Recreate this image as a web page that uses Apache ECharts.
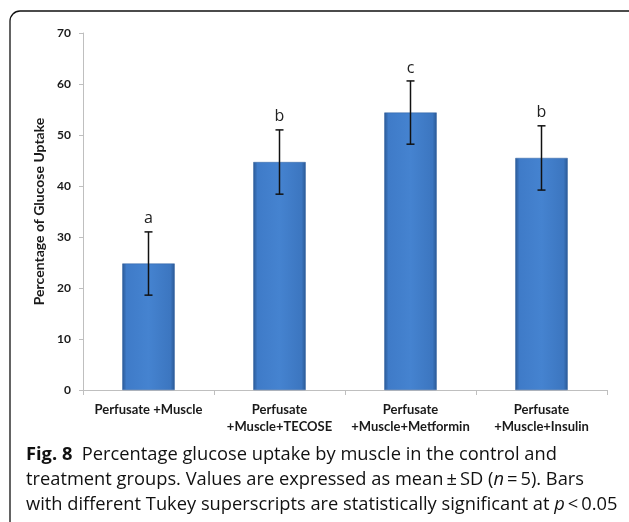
<!DOCTYPE html>
<html><head><meta charset="utf-8">
<script src="https://cdn.jsdelivr.net/npm/echarts@6/dist/echarts.min.js"></script>
<style>html,body{margin:0;padding:0;background:#fff}#c{width:629px;height:522px}</style>
</head><body><div id="c"></div>
<script>
const categories = ['Perfusate +Muscle', 'Perfusate\n+Muscle+TECOSE', 'Perfusate\n+Muscle+Metformin', 'Perfusate\n+Muscle+Insulin'];
const means = [24.8, 44.7, 54.4, 45.5];
const sds = [6.2, 6.3, 6.2, 6.3];
const letters = ['a', 'b', 'c', 'b'];
const yTicks = [0, 10, 20, 30, 40, 50, 60, 70];
const yTitle = 'Percentage of Glucose Uptake';
const captionBold = 'Fig. 8';

const chart = echarts.init(document.getElementById('c'));
const barColor = new echarts.graphic.LinearGradient(0, 0, 1, 0, [
  {offset: 0, color: '#2b5a96'}, {offset: 0.08, color: '#3f7bc8'},
  {offset: 0.5, color: '#4583d0'}, {offset: 0.92, color: '#3c76c0'}, {offset: 1, color: '#2b5a96'}
]);
const capFont = '"Open Sans", sans-serif';
const cs = '18.3px ';
chart.setOption({
  animation: false,
  grid: {left: 83, right: 22, top: 33, bottom: 132},
  xAxis: {
    type: 'category', data: categories,
    axisLine: {lineStyle: {color: '#bfbfbf', width: 1}},
    axisTick: {show: true, length: 5, lineStyle: {color: '#bfbfbf'}},
    axisLabel: {fontFamily: 'Lato, sans-serif', fontWeight: 'bold', fontSize: 13, color: '#1a1a1a', margin: 11, lineHeight: 17, interval: 0}
  },
  yAxis: {
    type: 'value', min: yTicks[0], max: yTicks[yTicks.length - 1], interval: 10,
    name: yTitle, nameLocation: 'middle', nameGap: 29,
    nameTextStyle: {fontFamily: 'Lato, sans-serif', fontWeight: 'bold', fontSize: 14, color: '#1a1a1a'},
    axisLine: {show: true, lineStyle: {color: '#bfbfbf'}},
    axisTick: {show: true, length: 4, lineStyle: {color: '#bfbfbf'}},
    splitLine: {show: false},
    axisLabel: {fontFamily: 'Lato, sans-serif', fontWeight: 'bold', fontSize: 12, color: '#1a1a1a', margin: 12}
  },
  series: [{
    type: 'bar', data: means, barWidth: '40%',
    itemStyle: {color: barColor, borderColor: '#2e5f9e', borderWidth: 0.5}
  }, {
    type: 'custom',
    data: means.map((m, i) => [i, m - sds[i], m + sds[i]]),
    renderItem: function (params, api) {
      const i = api.value(0);
      const lo = api.coord([i, api.value(1)]);
      const hi = api.coord([i, api.value(2)]);
      const x = lo[0], w = 4;
      return {type: 'group', children: [
        {type: 'line', shape: {x1: x, y1: lo[1], x2: x, y2: hi[1]}, style: {stroke: '#111', lineWidth: 1.5}},
        {type: 'line', shape: {x1: x - w, y1: lo[1], x2: x + w, y2: lo[1]}, style: {stroke: '#111', lineWidth: 1.5}},
        {type: 'line', shape: {x1: x - w, y1: hi[1], x2: x + w, y2: hi[1]}, style: {stroke: '#111', lineWidth: 1.5}},
        {type: 'text', style: {text: letters[i], x: x, y: hi[1] - 13, align: 'center', verticalAlign: 'middle',
          font: '16px "Open Sans", sans-serif', fill: '#222'}}
      ]};
    },
    z: 5
  }],
  graphic: [
    {type: 'rect', shape: {x: 10, y: 11, width: 640, height: 540, r: 10}, style: {fill: 'none', stroke: '#111', lineWidth: 1.3}, silent: true},
    {type: 'text', x: 26, y: 455, style: {text: '{b|' + captionBold + '}{n|  Percentage glucose uptake by muscle in the control and}',
      rich: {b: {font: 'bold ' + cs + capFont, fill: '#111'}, n: {font: cs + capFont, fill: '#111'}}, verticalAlign: 'middle'}},
    {type: 'text', x: 26, y: 480, style: {text: '{n|treatment groups. Values are expressed as mean\u2009\u00b1\u2009SD (}{i|n}{n|\u2009=\u20095). Bars}',
      rich: {n: {font: cs + capFont, fill: '#111'}, i: {font: 'italic ' + cs + capFont, fill: '#111'}}, verticalAlign: 'middle'}},
    {type: 'text', x: 26, y: 505, style: {text: '{n|with different Tukey superscripts are statistically significant at }{i|p}{n|\u2009<\u20090.05}',
      rich: {n: {font: cs + capFont, fill: '#111'}, i: {font: 'italic ' + cs + capFont, fill: '#111'}}, verticalAlign: 'middle'}}
  ]
});
</script></body></html>
